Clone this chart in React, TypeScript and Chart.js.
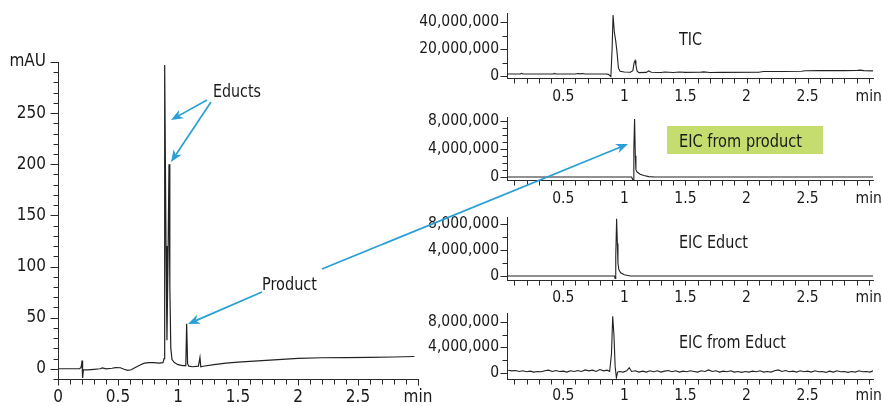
import React, { useEffect, useRef } from 'react';
import { Chart, registerables } from 'chart.js';

Chart.register(...registerables);

// ---------------- DATA ----------------
// Main UV chromatogram (mAU vs min)
const mainTimes = [0, 0.1, 0.18, 0.19, 0.195, 0.2, 0.203, 0.207, 0.212, 0.22, 0.25, 0.3, 0.35, 0.37, 0.4, 0.45, 0.48, 0.52, 0.55, 0.58, 0.61, 0.64, 0.68, 0.72, 0.76, 0.8, 0.84, 0.875, 0.884, 0.889, 0.9, 0.908, 0.918, 0.925, 0.932, 0.94, 0.95, 0.97, 1.0, 1.04, 1.065, 1.072, 1.08, 1.09, 1.12, 1.17, 1.183, 1.19, 1.21, 1.3, 1.4, 1.5, 1.6, 1.7, 1.8, 1.9, 2.0, 2.2, 2.4, 2.6, 2.8, 2.97];
const mainValues = [0, 0, 0, 1, 3, 8, 2, -9, -1, -1, -1, -0.5, 0, 0.8, 0, 0.5, 1.2, 1, -0.5, -1.5, -1, 1, 3.5, 5.5, 6, 6, 5.5, 6, 10, 297, 120, 28, 120, 200, 80, 20, 9, 6, 4, 3, 3, 44, 5, 2.5, 2, 2.5, 11, 2, 2.5, 4, 5.5, 6.5, 7.3, 8, 8.7, 9.5, 10.2, 10.8, 11, 11.2, 11.5, 12];

// TIC
const ticTimes = [0.04, 0.08, 0.15, 0.16, 0.17, 0.3, 0.42, 0.43, 0.44, 0.6, 0.62, 0.64, 0.66, 0.68, 0.85, 0.87, 0.89, 0.9, 0.908, 0.918, 0.93, 0.94, 0.952, 0.965, 1.0, 1.05, 1.07, 1.08, 1.088, 1.095, 1.105, 1.12, 1.18, 1.2, 1.22, 1.3, 1.33, 1.4, 1.45, 1.5, 1.62, 1.65, 1.7, 1.8, 2.1, 2.14, 2.3, 2.45, 2.48, 2.6, 2.8, 2.9, 2.93, 2.96, 3.035];
const ticValues = [1.5e6, 1.5e6, 1.6e6, 2.0e6, 1.5e6, 1.5e6, 1.5e6, 1.9e6, 1.5e6, 1.5e6, 1.9e6, 1.6e6, 1.8e6, 1.5e6, 1.5e6, 1.2e6, -0.5e6, 20e6, 45.5e6, 33e6, 26e6, 18e6, 6e6, 3.5e6, 3e6, 2.8e6, 4e6, 10e6, 11.5e6, 8e6, 3.5e6, 2.5e6, 2.7e6, 3.8e6, 2.8e6, 2.6e6, 3e6, 2.6e6, 3e6, 2.7e6, 2.8e6, 3.1e6, 2.6e6, 2.7e6, 2.8e6, 3.3e6, 3.4e6, 3.5e6, 3.9e6, 4e6, 4e6, 4.1e6, 4.4e6, 4e6, 3.8e6];

// EIC from product
const eicProductTimes = [0.04, 1.06, 1.072, 1.078, 1.084, 1.09, 1.095, 1.105, 1.13, 1.16, 1.2, 1.25, 3.035];
const eicProductValues = [0, 0, -0.5e6, 4e6, 8.2e6, 3e6, 1e6, 0.7e6, 0.4e6, 0.2e6, 0.05e6, 0, 0];

// EIC Educt
const eicEductTimes = [0.04, 0.92, 0.925, 0.93, 0.937, 0.943, 0.948, 0.955, 0.97, 1.0, 1.05, 3.035];
const eicEductValues = [0, 0, -0.4e6, 3e6, 8.8e6, 5e6, 2e6, 1e6, 0.5e6, 0.2e6, 0, 0];

// EIC from Educt
const eicFromEductTimes = [0.05, 0.08, 0.11, 0.14, 0.17, 0.2, 0.23, 0.26, 0.29, 0.32, 0.35, 0.38, 0.41, 0.44, 0.47, 0.5, 0.53, 0.56, 0.59, 0.62, 0.65, 0.68, 0.71, 0.74, 0.77, 0.8, 0.83, 0.86, 0.88, 0.895, 0.905, 0.915, 0.925, 0.935, 0.945, 0.96, 0.99, 1.02, 1.04, 1.06, 1.09, 1.12, 1.15, 1.18, 1.21, 1.24, 1.27, 1.3, 1.33, 1.36, 1.39, 1.42, 1.45, 1.48, 1.51, 1.54, 1.57, 1.6, 1.63, 1.66, 1.69, 1.72, 1.75, 1.78, 1.81, 1.84, 1.87, 1.9, 1.93, 1.96, 1.99, 2.02, 2.05, 2.08, 2.11, 2.14, 2.17, 2.2, 2.23, 2.26, 2.29, 2.32, 2.35, 2.38, 2.41, 2.44, 2.47, 2.5, 2.53, 2.56, 2.59, 2.62, 2.65, 2.68, 2.71, 2.74, 2.77, 2.8, 2.83, 2.86, 2.89, 2.92, 2.95, 2.98, 3.01, 3.035];
const eicFromEductValues = [0.4e6, 0.3e6, 0.35e6, 0.2e6, 0.3e6, 0.15e6, 0.25e6, 0.1e6, 0.2e6, 0.15e6, 0.3e6, 0.4e6, 0.2e6, 0.35e6, 0.2e6, 0.25e6, 0.1e6, 0.3e6, 0.2e6, 0.35e6, 0.2e6, 0.45e6, 0.3e6, 0.4e6, 0.2e6, 0.5e6, 0.3e6, 0.4e6, 0.2e6, 3e6, 8.9e6, 6e6, 1e6, -0.8e6, 0.1e6, 0.2e6, 0.1e6, 0.3e6, 0.8e6, 0.2e6, 0.3e6, 0.1e6, 0.25e6, 0.1e6, 0.3e6, 0.15e6, 0.3e6, 0.1e6, 0.25e6, 0.35e6, 0.15e6, 0.3e6, 0.1e6, 0.25e6, 0.15e6, 0.3e6, 0.2e6, 0.1e6, 0.3e6, 0.2e6, 0.45e6, 0.2e6, 0.3e6, 0.1e6, 0.25e6, 0.15e6, 0.3e6, 0.1e6, 0.2e6, 0.05e6, 0.2e6, 0.1e6, 0.25e6, 0.15e6, 0.3e6, 0.1e6, 0.2e6, 0.1e6, 0.3e6, 0.45e6, 0.2e6, 0.35e6, 0.15e6, 0.25e6, 0.1e6, 0.3e6, 0.15e6, 0.25e6, 0.1e6, 0.3e6, 0.15e6, 0.2e6, 0.05e6, 0.25e6, 0.1e6, 0.3e6, 0.15e6, 0.2e6, 0.05e6, 0.2e6, 0.1e6, 0.3e6, 0.15e6, 0.2e6, 0.1e6, 0.3e6];

// Tick labels
const mainXTicks = [0, 0.5, 1, 1.5, 2, 2.5, 3];
const mainXLabels = ['0', '0.5', '1', '1.5', '2', '2.5', 'min'];
const mainYTicks = [0, 50, 100, 150, 200, 250, 300];
const mainYLabels = ['0', '50', '100', '150', '200', '250', 'mAU'];
const panelXTicks = [0.5, 1, 1.5, 2, 2.5, 3];
const panelXLabels = ['0.5', '1', '1.5', '2', '2.5', 'min'];
const ticYTicks = [0, 20e6, 40e6];
const ticYLabels = ['0', '20,000,000', '40,000,000'];
const eicYTicks = [0, 4e6, 8e6];
const eicYLabels = ['0', '4,000,000', '8,000,000'];

// Annotation texts
const panelTitles = ['TIC', 'EIC from product', 'EIC Educt', 'EIC from Educt'];
const peakLabels = ['Educts', 'Product'];

// ---------------- STYLE ----------------
const FONT = "'Liberation Sans Narrow', 'DejaVu Sans Condensed', 'Arial Narrow', sans-serif";
const LINE = '#222222';
const AXIS = '#2a2a2a';
const TEXT = '#1a1a1a';
const BLUE = '#2a9fd6';
const GREEN = '#c5dc6e';

function steps(start: number, end: number, step: number): number[] {
  const out: number[] = [];
  for (let i = 0; start + i * step <= end + 1e-9; i++) out.push(+(start + i * step).toFixed(6));
  return out;
}

type Spec = {
  box: { x: number; y: number; w: number; h: number };
  plot: { left: number; top: number; right: number; bottom: number };
  xMin: number; xMax: number; yMin: number; yMax: number;
  xTicks: number[]; xLabels: string[]; yTicks: number[]; yLabels: string[];
  xMinor: number[]; yMinor: number[];
  fontSize: number; xPad: number; yPad: number;
  yMajorLen: number; yMinorLen: number; xMajorLen: number; xMinorLen: number;
  times: number[]; values: number[]; lineWidth: number;
};

const specs: Spec[] = [
  {
    box: { x: 0, y: 40, w: 432, h: 366 },
    plot: { left: 58, top: 62, right: 418, bottom: 379 },
    xMin: 0, xMax: 3, yMin: -10, yMax: 300,
    xTicks: mainXTicks, xLabels: mainXLabels, yTicks: mainYTicks, yLabels: mainYLabels,
    xMinor: steps(0, 3, 0.1), yMinor: steps(-10, 300, 10),
    fontSize: 17, xPad: 8, yPad: 12,
    yMajorLen: 8, yMinorLen: 5, xMajorLen: 6, xMinorLen: 5,
    times: mainTimes, values: mainValues, lineWidth: 1.2,
  },
  {
    box: { x: 408, y: 0, w: 474, h: 104 },
    plot: { left: 507, top: 13, right: 873, bottom: 78 },
    xMin: 0.04, xMax: 3.035, yMin: -1.5e6, yMax: 47e6,
    xTicks: panelXTicks, xLabels: panelXLabels, yTicks: ticYTicks, yLabels: ticYLabels,
    xMinor: steps(0.1, 3, 0.1), yMinor: steps(0, 40e6, 10e6),
    fontSize: 15.5, xPad: 10, yPad: 8,
    yMajorLen: 7, yMinorLen: 5, xMajorLen: 5, xMinorLen: 5,
    times: ticTimes, values: ticValues, lineWidth: 1.1,
  },
  {
    box: { x: 408, y: 104, w: 474, h: 102 },
    plot: { left: 507, top: 117, right: 873, bottom: 180 },
    xMin: 0.04, xMax: 3.035, yMin: -0.425e6, yMax: 8.5e6,
    xTicks: panelXTicks, xLabels: panelXLabels, yTicks: eicYTicks, yLabels: eicYLabels,
    xMinor: steps(0.1, 3, 0.1), yMinor: steps(0, 8e6, 1e6),
    fontSize: 15.5, xPad: 10, yPad: 8,
    yMajorLen: 7, yMinorLen: 5, xMajorLen: 5, xMinorLen: 5,
    times: eicProductTimes, values: eicProductValues, lineWidth: 1.1,
  },
  {
    box: { x: 408, y: 206, w: 474, h: 100 },
    plot: { left: 507, top: 217, right: 873, bottom: 280 },
    xMin: 0.04, xMax: 3.035, yMin: -0.62e6, yMax: 9.08e6,
    xTicks: panelXTicks, xLabels: panelXLabels, yTicks: eicYTicks, yLabels: eicYLabels,
    xMinor: steps(0.1, 3, 0.1), yMinor: steps(0, 8e6, 2e6),
    fontSize: 15.5, xPad: 9, yPad: 8,
    yMajorLen: 7, yMinorLen: 5, xMajorLen: 5, xMinorLen: 5,
    times: eicEductTimes, values: eicEductValues, lineWidth: 1.1,
  },
  {
    box: { x: 408, y: 306, w: 474, h: 100 },
    plot: { left: 507, top: 313, right: 873, bottom: 379 },
    xMin: 0.04, xMax: 3.035, yMin: -0.99e6, yMax: 9.42e6,
    xTicks: panelXTicks, xLabels: panelXLabels, yTicks: eicYTicks, yLabels: eicYLabels,
    xMinor: steps(0.1, 3, 0.1), yMinor: steps(0, 8e6, 2e6),
    fontSize: 15.5, xPad: 8, yPad: 8,
    yMajorLen: 7, yMinorLen: 5, xMajorLen: 5, xMinorLen: 5,
    times: eicFromEductTimes, values: eicFromEductValues, lineWidth: 1.1,
  },
];

function buildChart(canvas: HTMLCanvasElement, s: Spec): Chart {
  const padTop = s.plot.top - s.box.y;
  const padRight = s.box.x + s.box.w - s.plot.right;
  const yWidth = s.plot.left - s.box.x;
  const xHeight = s.box.y + s.box.h - s.plot.bottom;
  const marks = {
    id: 'marks',
    afterDraw(chart: any) {
      const { ctx, chartArea } = chart;
      const xs = chart.scales.x;
      const ys = chart.scales.y;
      ctx.save();
      ctx.strokeStyle = AXIS;
      ctx.lineWidth = 1;
      ctx.beginPath();
      const left = Math.round(chartArea.left) + 0.5;
      const bottom = Math.round(chartArea.bottom) + 0.5;
      for (const v of s.yMinor) {
        if (v < s.yMin || v > s.yMax) continue;
        const p = Math.round(ys.getPixelForValue(v)) + 0.5;
        const len = s.yTicks.includes(v) ? s.yMajorLen : s.yMinorLen;
        ctx.moveTo(left - len, p);
        ctx.lineTo(left, p);
      }
      for (const v of s.xMinor) {
        if (v < s.xMin || v > s.xMax) continue;
        const p = Math.round(xs.getPixelForValue(v)) + 0.5;
        const len = s.xTicks.includes(v) ? s.xMajorLen : s.xMinorLen;
        ctx.moveTo(p, bottom);
        ctx.lineTo(p, bottom + len);
      }
      ctx.stroke();
      ctx.restore();
    },
  };
  const font = { family: FONT, size: s.fontSize };
  return new Chart(canvas, {
    type: 'line',
    data: {
      datasets: [
        {
          data: s.times.map((t, i) => ({ x: t, y: s.values[i] })),
          borderColor: LINE,
          borderWidth: s.lineWidth,
          pointRadius: 0,
          tension: 0,
          fill: false,
        },
      ],
    },
    options: {
      responsive: false,
      animation: false,
      devicePixelRatio: 1,
      events: [],
      layout: { padding: { top: padTop, right: padRight, left: 0, bottom: 0 } },
      plugins: { legend: { display: false }, tooltip: { enabled: false } },
      scales: {
        x: {
          type: 'linear',
          min: s.xMin,
          max: s.xMax,
          afterBuildTicks: (sc: any) => {
            sc.ticks = s.xTicks.map((v) => ({ value: v }));
          },
          afterFit: (sc: any) => {
            sc.height = xHeight;
            sc.paddingLeft = 0;
            sc.paddingRight = 0;
          },
          ticks: {
            autoSkip: false,
            maxRotation: 0,
            minRotation: 0,
            padding: s.xPad,
            color: TEXT,
            font,
            callback: (_v: any, i: number) => s.xLabels[i],
          },
          grid: { drawOnChartArea: false, drawTicks: false },
          border: { display: true, color: AXIS, width: 1 },
        },
        y: {
          type: 'linear',
          position: 'left',
          min: s.yMin,
          max: s.yMax,
          afterBuildTicks: (sc: any) => {
            sc.ticks = s.yTicks.map((v) => ({ value: v }));
          },
          afterFit: (sc: any) => {
            sc.width = yWidth;
            sc.paddingTop = 0;
            sc.paddingBottom = 0;
          },
          ticks: {
            autoSkip: false,
            padding: s.yPad,
            color: TEXT,
            font,
            callback: (_v: any, i: number) => s.yLabels[i],
          },
          grid: { drawOnChartArea: false, drawTicks: false },
          border: { display: true, color: AXIS, width: 1 },
        },
      },
    } as any,
    plugins: [marks],
  });
}

function ChartCanvas({ spec }: { spec: Spec }) {
  const ref = useRef<HTMLCanvasElement>(null);
  useEffect(() => {
    const chart = buildChart(ref.current as HTMLCanvasElement, spec);
    return () => chart.destroy();
  }, [spec]);
  return (
    <canvas
      ref={ref}
      width={spec.box.w}
      height={spec.box.h}
      style={{ position: 'absolute', left: spec.box.x, top: spec.box.y, width: spec.box.w, height: spec.box.h }}
    />
  );
}

function Arrow({ x1, y1, x2, y2 }: { x1: number; y1: number; x2: number; y2: number }) {
  const dx = x2 - x1;
  const dy = y2 - y1;
  const len = Math.hypot(dx, dy);
  const ux = dx / len;
  const uy = dy / len;
  const nx = -uy;
  const ny = ux;
  const L = 12;
  const W = 4.8;
  const N = 3.5;
  const bx = x2 - ux * L;
  const by = y2 - uy * L;
  const mx = x2 - ux * (L - N);
  const my = y2 - uy * (L - N);
  const pts = `${x2},${y2} ${bx + nx * W},${by + ny * W} ${mx},${my} ${bx - nx * W},${by - ny * W}`;
  return (
    <g>
      <line x1={x1} y1={y1} x2={mx} y2={my} stroke={BLUE} strokeWidth={1.7} />
      <polygon points={pts} fill={BLUE} />
    </g>
  );
}

const arrows = [
  { x1: 207, y1: 100, x2: 171, y2: 120 },
  { x1: 211, y1: 102, x2: 171, y2: 162 },
  { x1: 262, y1: 292, x2: 188, y2: 324 },
  { x1: 322, y1: 269, x2: 628, y2: 144 },
];

// label placements: [x, baseline y, target width]
const titlePlacements = [
  [679, 45, 23],
  [679, 147, 123],
  [679, 248, 69],
  [679, 348, 107],
];
const peakPlacements = [
  [213, 97, 48],
  [262, 290, 55],
];

function Label({ x, y, w, text }: { x: number; y: number; w: number; text: string }) {
  return (
    <text
      x={x}
      y={y}
      textLength={w}
      lengthAdjust="spacingAndGlyphs"
      fontFamily={FONT}
      fontSize={18}
      fill={TEXT}
    >
      {text}
    </text>
  );
}

export default function App() {
  return (
    <div style={{ position: 'fixed', left: 0, top: 0, width: 882, height: 406, background: '#ffffff', overflow: 'hidden' }}>
      {specs.map((s, i) => (
        <ChartCanvas key={i} spec={s} />
      ))}
      <svg width={882} height={406} style={{ position: 'absolute', left: 0, top: 0, pointerEvents: 'none' }}>
        <rect x={667} y={126} width={156} height={28} fill={GREEN} />
        {panelTitles.map((t, i) => (
          <Label key={'t' + i} x={titlePlacements[i][0]} y={titlePlacements[i][1]} w={titlePlacements[i][2]} text={t} />
        ))}
        {peakLabels.map((t, i) => (
          <Label key={'p' + i} x={peakPlacements[i][0]} y={peakPlacements[i][1]} w={peakPlacements[i][2]} text={t} />
        ))}
        {arrows.map((a, i) => (
          <Arrow key={i} {...a} />
        ))}
      </svg>
    </div>
  );
}
